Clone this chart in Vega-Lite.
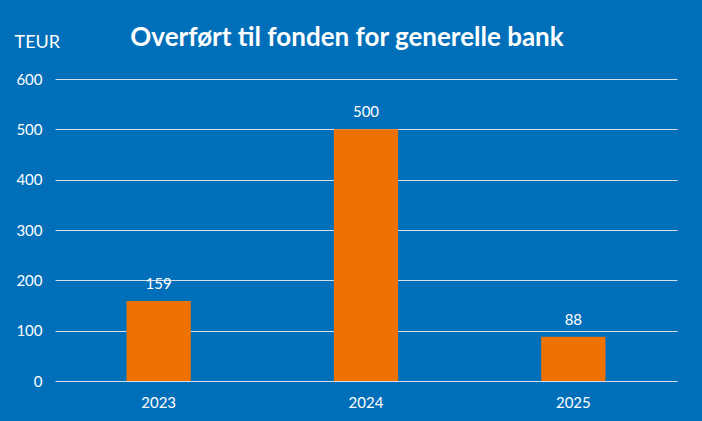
{
  "$schema": "https://vega.github.io/schema/vega-lite/v6.json",
  "width": 622,
  "height": 302,
  "autosize": {"type": "none"},
  "padding": {"left": 55, "top": 79, "right": 25, "bottom": 40},
  "background": "#006FBA",
  "config": {
    "view": {"stroke": null},
    "font": "Lato"
  },
  "title": {
    "text": "Overført til fonden for generelle bank",
    "fontSize": 26,
    "fontWeight": "bold",
    "color": "#FFFFFF",
    "anchor": "middle",
    "frame": "group",
    "dx": -19,
    "offset": -18
  },
  "data": {
    "values": [
      {"year": "2023", "value": 159},
      {"year": "2024", "value": 500},
      {"year": "2025", "value": 88}
    ]
  },
  "encoding": {
    "x": {
      "field": "year",
      "type": "nominal",
      "scale": {"paddingInner": 0.69, "paddingOuter": 0.345},
      "axis": {
        "title": null,
        "labelAngle": 0,
        "labelColor": "#FFFFFF",
        "labelFontSize": 15,
        "labelPadding": 14,
        "domain": false,
        "ticks": false,
        "grid": false
      }
    },
    "y": {
      "field": "value",
      "type": "quantitative",
      "scale": {"domain": [0, 600]},
      "axis": {
        "values": [0, 100, 200, 300, 400, 500, 600],
        "title": "TEUR",
        "titleAngle": 0,
        "titleAlign": "left",
        "titleBaseline": "middle",
        "titleX": -41,
        "titleY": -37,
        "titleColor": "#FFFFFF",
        "titleFontSize": 18,
        "titleFontWeight": "normal",
        "labelColor": "#FFFFFF",
        "labelFontSize": 15,
        "labelPadding": 13,
        "domain": false,
        "ticks": false,
        "grid": true,
        "gridColor": "#D4DDEB",
        "gridWidth": 1.2
      }
    }
  },
  "layer": [
    {"mark": {"type": "bar", "color": "#EE7203"}},
    {
      "mark": {"type": "text", "color": "#FFFFFF", "fontSize": 15, "baseline": "alphabetic", "dy": -12},
      "encoding": {"text": {"field": "value", "type": "quantitative"}}
    }
  ]
}
